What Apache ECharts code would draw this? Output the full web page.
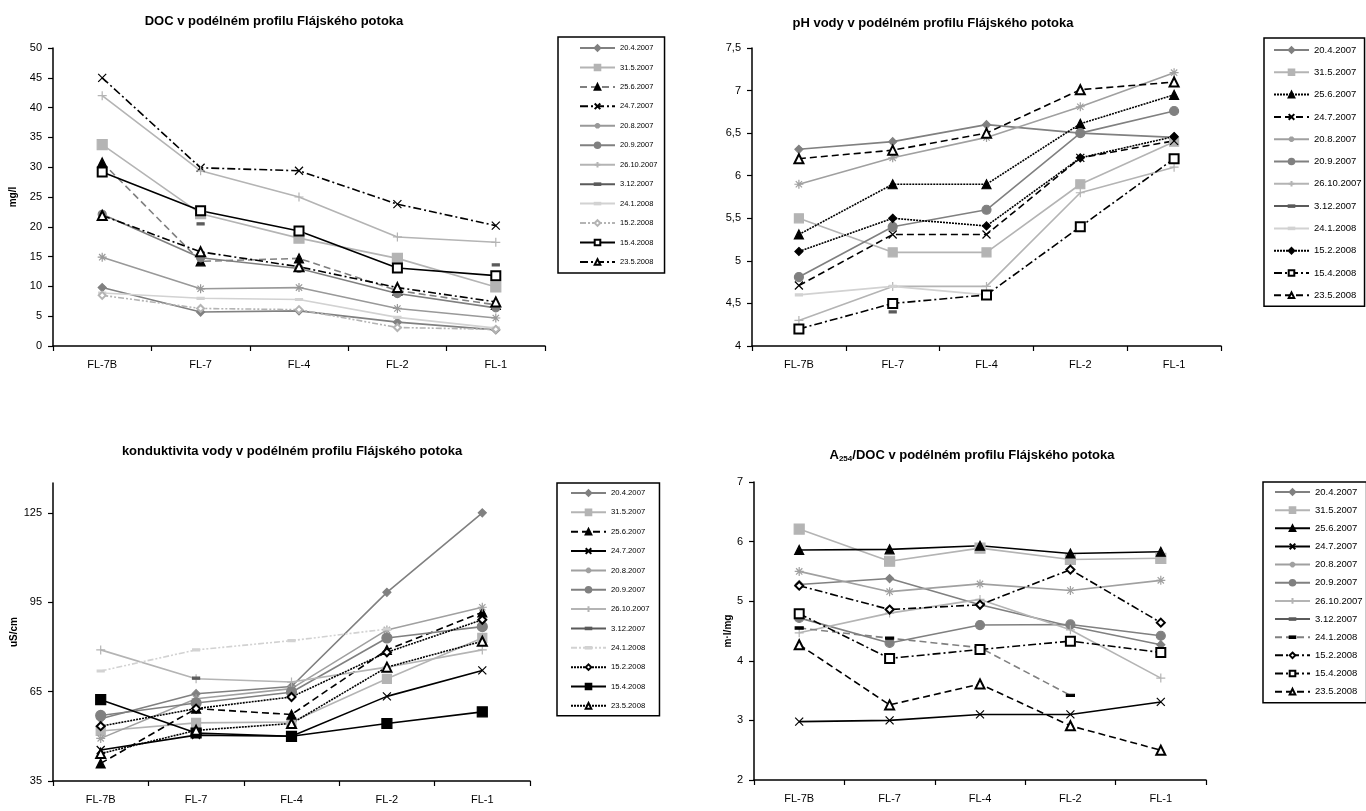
<!DOCTYPE html>
<html lang="cs">
<head>
    <meta charset="UTF-8">
    <title>Flájský potok</title>
    <script type="text/javascript" src="https://cdn.jsdelivr.net/npm/echarts@6/dist/echarts.min.js"></script>
    <style>
        html, body { margin: 0; padding: 0; background: #fff; }
    </style>
</head>
<body>
    <div id="main" style="width: 1366px;height:811px;"></div>
    <script type="text/javascript">

        // stanice a termíny odběru
        var stations = ['FL-7B', 'FL-7', 'FL-4', 'FL-2', 'FL-1'];
        var dates = ['20.4.2007', '31.5.2007', '25.6.2007', '24.7.2007', '20.8.2007', '20.9.2007',
                     '26.10.2007', '3.12.2007', '24.1.2008', '15.2.2008', '15.4.2008', '23.5.2008'];

        // DOC (mg/l), jeden řádek na termín
        var docData = [
            [9.8, 5.7, 5.9, 4.0, 2.7],
            [33.8, 22.2, 18.1, 14.7, 9.9],
            [30.8, 14.2, 14.7, 9.3, 6.9],
            [45.0, 29.9, 29.4, 23.8, 20.2],
            [14.9, 9.6, 9.8, 6.3, 4.7],
            [22.1, 14.8, 13.0, 8.8, 6.4],
            [42.0, 29.4, 25.0, 18.3, 17.4],
            [null, 20.5, null, null, 13.6],
            [8.9, 8.0, 7.8, 4.8, 3.0],
            [8.5, 6.3, 6.1, 3.1, 2.8],
            [29.2, 22.7, 19.3, 13.1, 11.8],
            [21.9, 15.8, 13.3, 9.8, 7.4]
        ];

        // pH
        var phData = [
            [6.31, 6.40, 6.60, 6.50, 6.45],
            [5.50, 5.10, 5.10, 5.90, 6.40],
            [5.31, 5.90, 5.90, 6.61, 6.95],
            [4.71, 5.31, 5.31, 6.21, 6.41],
            [5.90, 6.21, 6.45, 6.81, 7.21],
            [4.81, 5.40, 5.60, 6.50, 6.76],
            [4.30, 4.70, 4.70, 5.80, 6.10],
            [null, 4.40, null, null, null],
            [4.60, 4.70, 4.60, null, null],
            [5.11, 5.50, 5.41, 6.21, 6.46],
            [4.20, 4.50, 4.60, 5.40, 6.20],
            [6.20, 6.30, 6.50, 7.01, 7.10]
        ];

        // konduktivita (uS/cm)
        var condData = [
            [55.9, 64.3, 66.7, 98.3, 125.0],
            [51.8, 54.5, 54.8, 69.3, 83.0],
            [40.9, 59.3, 57.3, 79.0, 91.6],
            [45.4, 50.4, 50.0, 63.4, 72.1],
            [49.3, 62.6, 66.0, 85.7, 93.3],
            [57.0, 61.2, 64.8, 83.0, 86.8],
            [79.0, 69.3, 68.2, 73.2, 79.0],
            [null, 69.5, null, null, null],
            [71.9, 79.0, 82.1, 86.0, null],
            [53.4, 59.3, 63.2, 78.2, 89.1],
            [62.3, 51.1, 50.0, 54.3, 58.2],
            [44.2, 52.0, 54.3, 73.2, 81.9]
        ];

        // A254/DOC (m·l/mg)
        var a254Data = [
            [5.28, 5.38, 4.94, 4.58, 4.27],
            [6.21, 5.67, 5.89, 5.70, 5.72],
            [5.86, 5.87, 5.93, 5.80, 5.83],
            [2.98, 3.00, 3.10, 3.10, 3.31],
            [5.50, 5.16, 5.29, 5.18, 5.35],
            [4.72, 4.30, 4.60, 4.61, 4.42],
            [4.47, 4.80, 5.03, 4.52, 3.71],
            [null, null, null, null, null],
            [4.55, 4.38, 4.22, 3.42, null],
            [5.26, 4.86, 4.94, 5.53, 4.64],
            [4.79, 4.04, 4.19, 4.33, 4.14],
            [4.27, 3.26, 3.61, 2.91, 2.50]
        ];

        // barvy a značky
        var G = '#808080', L = '#b4b4b4', VL = '#d2d2d2', D = '#5a5a5a', K = '#000000';
        var X_SYM = 'path://M0,0L10,10M10,0L0,10';
        var STAR_SYM = 'path://M5,0L5,10M0,5L10,5M1.5,1.5L8.5,8.5M8.5,1.5L1.5,8.5';
        var PLUS_SYM = 'path://M5,0L5,10M0,5L10,5';
        // krátká vodorovná čárka, M body drží čtvercový rámec
        var DASH_SYM = 'path://M0,0M10,10M0,3.6L10,3.6L10,6.4L0,6.4Z';
        var DASHED = [7, 4], DASHDOT = [8, 3, 2, 3], DASHDOT2 = [6, 2, 2, 2, 2, 2], DOTTED = [2, 1];

        function st(c, dash, sym, size, m) {
            return {c: c, dash: dash || 'solid', sym: sym, size: size, m: m || c};
        }

        var docStyles = [
            st(G, null, 'diamond', 8), st(L, null, 'rect', 10), st(G, DASHED, 'triangle', 9, K),
            st(K, DASHDOT, X_SYM, 8), st('#999999', null, STAR_SYM, 9), st(G, null, 'circle', 8),
            st(L, null, PLUS_SYM, 9), st(D, null, DASH_SYM, 7), st(VL, null, DASH_SYM, 7),
            st(L, DASHDOT2, 'emptyDiamond', 7), st(K, null, 'emptyRect', 9), st(K, DASHDOT, 'emptyTriangle', 9)
        ];
        var phStyles = [
            st(G, null, 'diamond', 8), st(L, null, 'rect', 9), st(K, DOTTED, 'triangle', 9),
            st(K, DASHED, X_SYM, 8), st('#a0a0a0', null, STAR_SYM, 9), st(G, null, 'circle', 9),
            st(L, null, PLUS_SYM, 9), st(D, null, DASH_SYM, 7), st(VL, null, DASH_SYM, 7),
            st(K, DOTTED, 'diamond', 8), st(K, DASHDOT, 'emptyRect', 9), st(K, DASHED, 'emptyTriangle', 9)
        ];
        var condStyles = [
            st(G, null, 'diamond', 8), st(L, null, 'rect', 9), st(K, DASHED, 'triangle', 9),
            st(K, null, X_SYM, 8), st('#a0a0a0', null, STAR_SYM, 9), st(G, null, 'circle', 10),
            st(L, null, PLUS_SYM, 9), st(D, null, DASH_SYM, 7), st(VL, DASHDOT2, DASH_SYM, 7),
            st(K, DOTTED, 'emptyDiamond', 8), st(K, null, 'rect', 10), st(K, DOTTED, 'emptyTriangle', 9)
        ];
        var a254Styles = [
            st(G, null, 'diamond', 8), st(L, null, 'rect', 10), st(K, null, 'triangle', 9),
            st(K, null, X_SYM, 8), st('#a0a0a0', null, STAR_SYM, 9), st(G, null, 'circle', 9),
            st(L, null, PLUS_SYM, 9), st(D, null, DASH_SYM, 7), st(G, DASHED, DASH_SYM, 8, K),
            st(K, DASHDOT, 'emptyDiamond', 8), st(K, DASHDOT, 'emptyRect', 9), st(K, DASHED, 'emptyTriangle', 9)
        ];

        function buildSeries(data, styles, idx) {
            return dates.map(function (d, i) {
                var s = styles[i];
                return {
                    name: d + '#' + idx,
                    type: 'line',
                    xAxisIndex: idx,
                    yAxisIndex: idx,
                    data: data[i],
                    symbol: s.sym,
                    symbolSize: s.size,
                    showAllSymbol: true,
                    lineStyle: {color: s.c, width: 1.6, type: s.dash},
                    itemStyle: {color: s.m, borderColor: s.m, borderWidth: 1.2},
                    animation: false
                };
            });
        }

        function buildLegend(idx, left, top, gap, fontSize, padding) {
            return {
                orient: 'vertical',
                left: left,
                top: top,
                itemWidth: 35,
                itemHeight: 7,
                itemGap: gap,
                padding: padding,
                borderColor: '#000',
                borderWidth: 1.5,
                selectedMode: false,
                data: dates.map(function (d) { return d + '#' + idx; }),
                formatter: function (name) { return name.split('#')[0]; },
                textStyle: {fontSize: fontSize, color: '#000', fontFamily: 'Arial, Liberation Sans'}
            };
        }

        var font = 'Arial, Liberation Sans';
        var axisLine = {show: true, lineStyle: {color: '#000', width: 1.5}};
        var axisTick = {show: true, length: 5, lineStyle: {color: '#000', width: 1.2}};
        var labelStyle = {color: '#000', fontSize: 11, fontFamily: font};

        function xAx(idx) {
            return {
                type: 'category', gridIndex: idx, data: stations, boundaryGap: true,
                axisLine: axisLine, axisTick: axisTick,
                axisLabel: Object.assign({margin: 13}, labelStyle)
            };
        }
        function yAx(idx, min, max, interval, name, gap, extra) {
            return Object.assign({
                type: 'value', gridIndex: idx, min: min, max: max, interval: interval,
                name: name, nameLocation: 'middle', nameGap: gap, nameRotate: 90,
                nameTextStyle: {fontSize: 10, fontWeight: 'bold', color: '#000', fontFamily: font},
                splitLine: {show: false},
                axisLine: axisLine, axisTick: axisTick,
                axisLabel: Object.assign({margin: 11}, labelStyle)
            }, extra || {});
        }

        var titleFont = {fontSize: 13, fontWeight: 'bold', fontFamily: font, fill: '#000', align: 'center', verticalAlign: 'middle'};
        function titleText(x, y, text) {
            return {type: 'text', x: x, y: y, style: Object.assign({text: text}, titleFont)};
        }

        var myChart = echarts.init(document.getElementById('main'));

        var option = {
            backgroundColor: '#fff',
            animation: false,
            graphic: [
                titleText(274, 21, 'DOC v podélném profilu Flájského potoka'),
                titleText(933, 23, 'pH vody v podélném profilu Flájského potoka'),
                titleText(292, 451, 'konduktivita vody v podélném profilu Flájského potoka'),
                {
                    type: 'text', x: 972, y: 455,
                    style: {
                        text: '{a|A}{s|254}{a|/DOC v podélném profilu Flájského potoka}',
                        align: 'center', verticalAlign: 'middle', fill: '#000',
                        rich: {
                            a: {fontSize: 13, fontWeight: 'bold', fontFamily: font, lineHeight: 16, verticalAlign: 'middle'},
                            s: {fontSize: 8, fontWeight: 'bold', fontFamily: font, lineHeight: 10, verticalAlign: 'bottom'}
                        }
                    }
                }
            ],
            grid: [
                {left: 53, top: 48, width: 492, height: 298},
                {left: 752, top: 48, width: 469, height: 298},
                {left: 53, top: 483, width: 477, height: 298},
                {left: 754, top: 482, width: 452, height: 298}
            ],
            legend: [
                buildLegend(0, 558, 37, 11.45, 7.5, [7, 7, 7, 21]),
                buildLegend(1, 1264, 38, 12.3, 9.5, [7, 3, 6, 9]),
                buildLegend(2, 557, 483, 11.35, 7.7, [6, 10, 6, 13]),
                buildLegend(3, 1263, 482, 8.15, 9.5, [5, 4, 6, 11])
            ],
            xAxis: [xAx(0), xAx(1), xAx(2), xAx(3)],
            yAxis: [
                yAx(0, 0, 50, 5, 'mg/l', 35),
                yAx(1, 4, 7.5, 0.5, '', 30, {
                    axisLabel: Object.assign({margin: 11, formatter: function (v) { return String(v).replace('.', ','); }}, labelStyle)
                }),
                yAx(2, 35, 135, 30, 'uS/cm', 20, {
                    axisLabel: Object.assign({margin: 11, showMaxLabel: false}, labelStyle)
                }),
                yAx(3, 2, 7, 1, 'm·l/mg', 21)
            ],
            series: [].concat(
                buildSeries(docData, docStyles, 0),
                buildSeries(phData, phStyles, 1),
                buildSeries(condData, condStyles, 2),
                buildSeries(a254Data, a254Styles, 3)
            )
        };

        myChart.setOption(option);

    </script>
</body>
</html>
